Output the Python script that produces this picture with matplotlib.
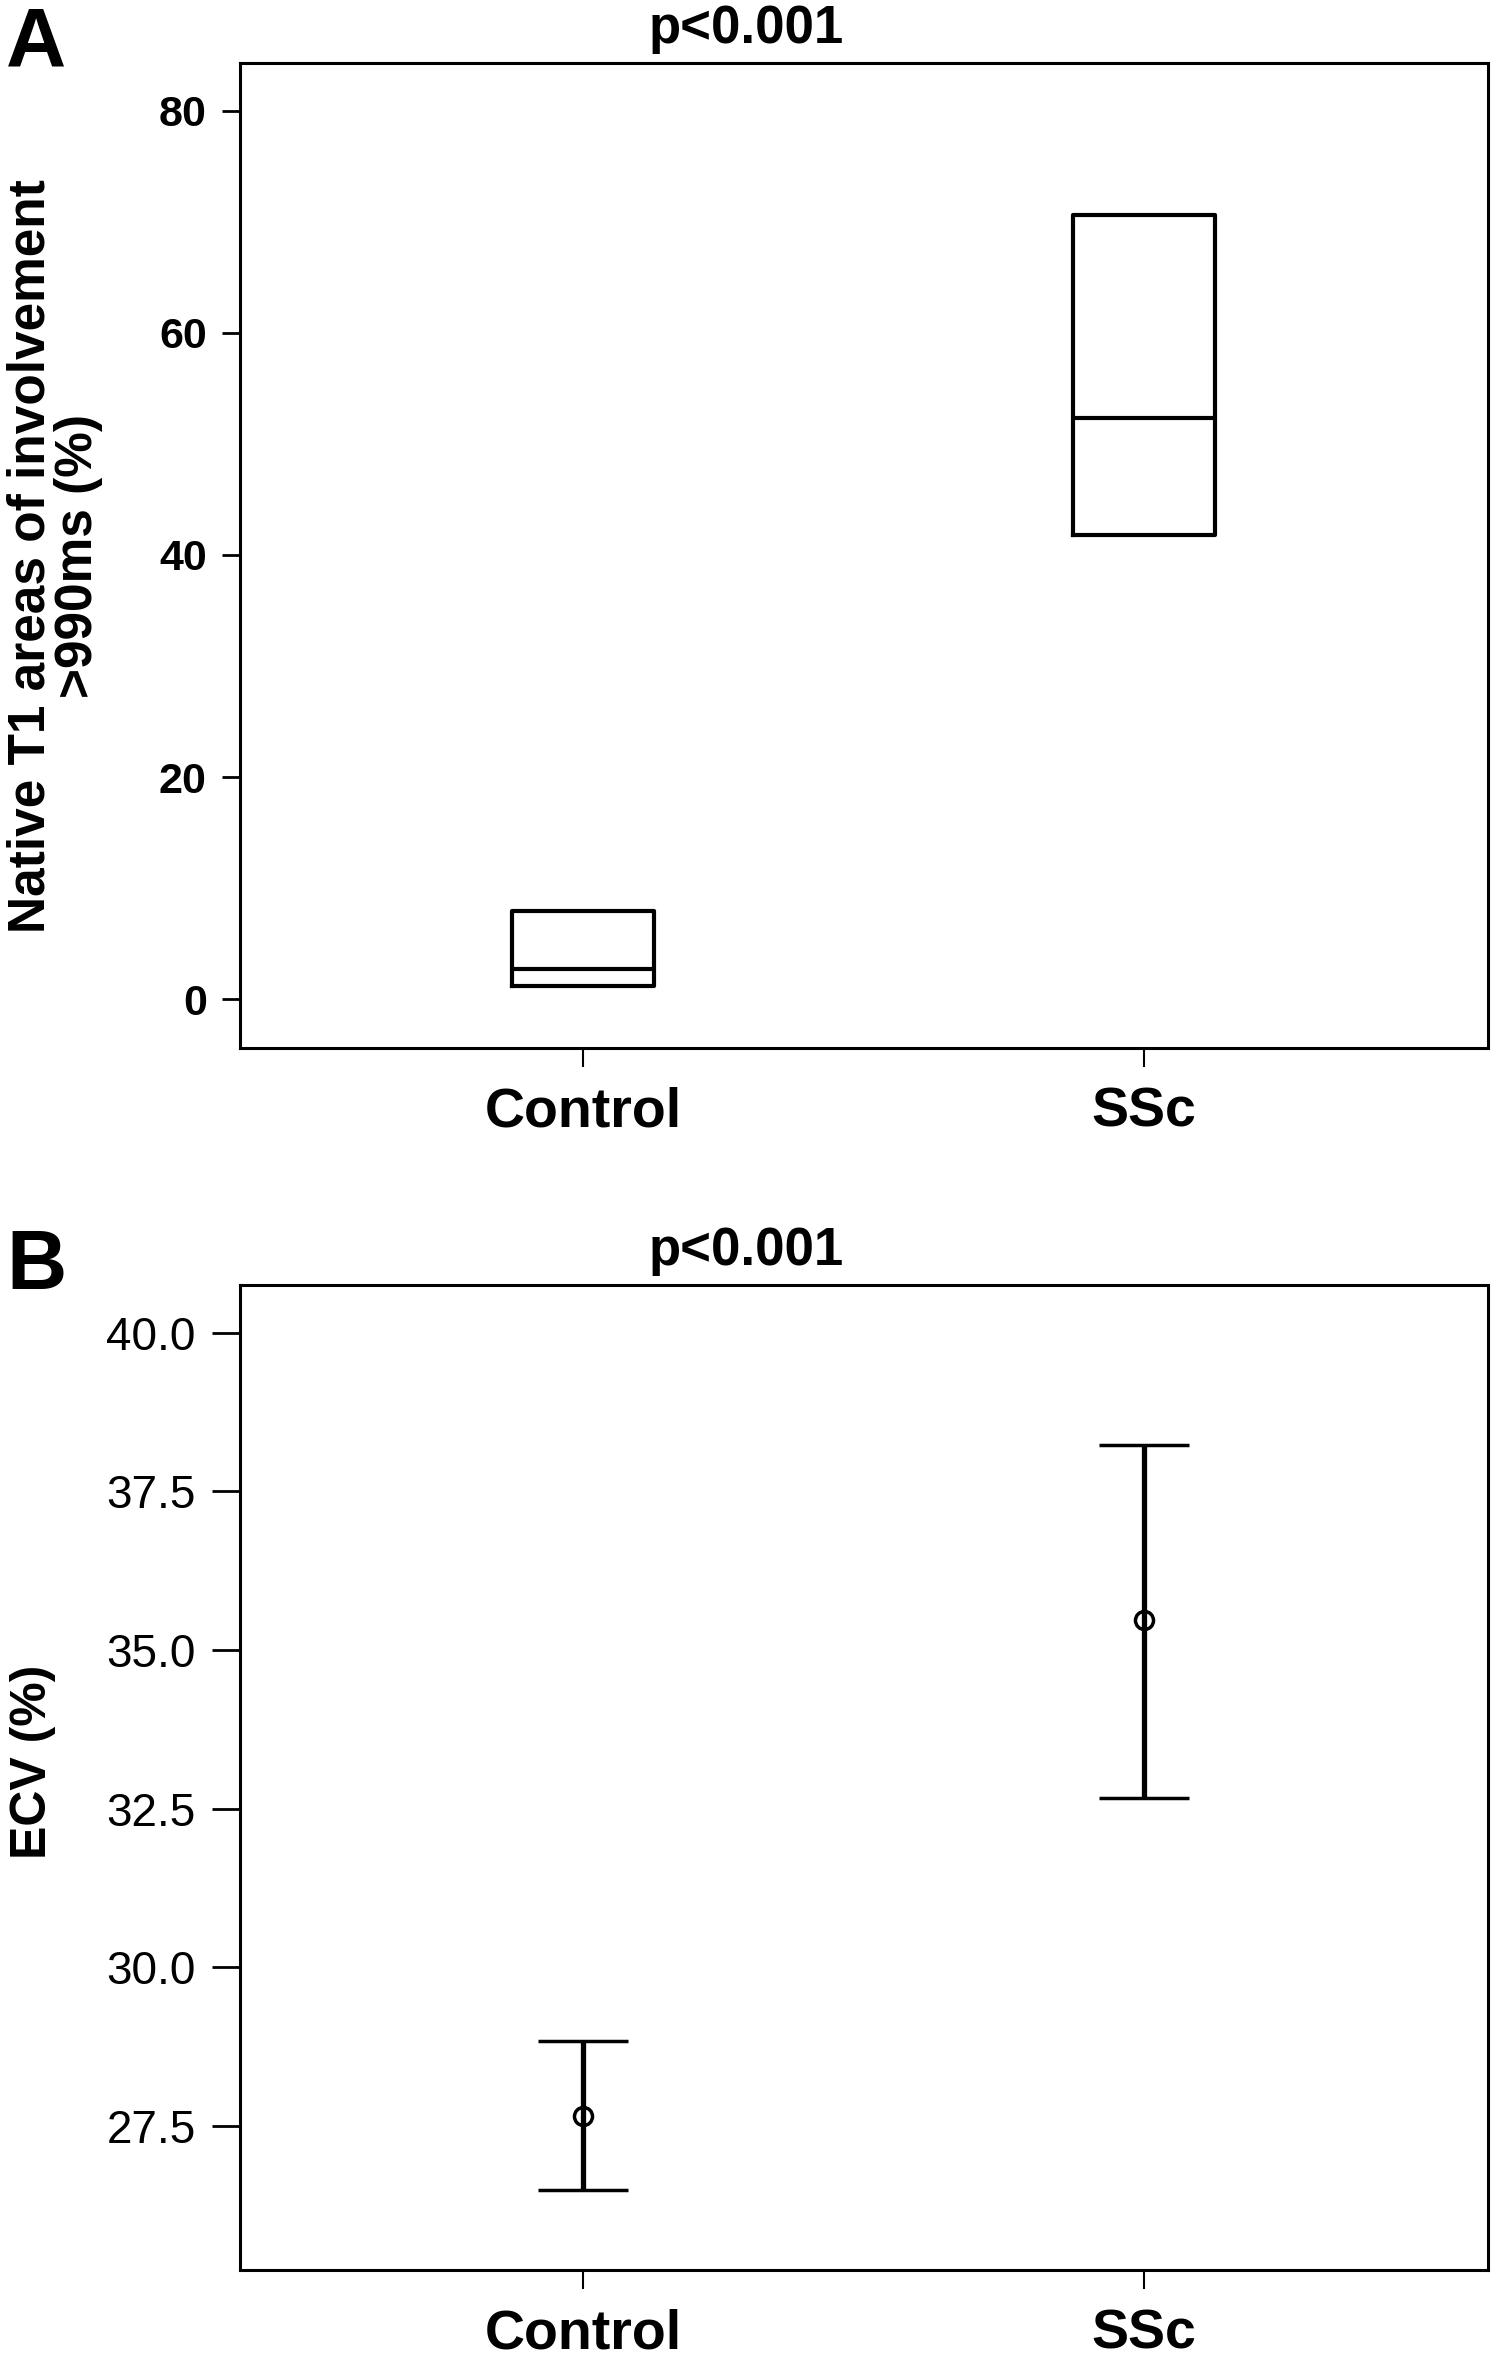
import numpy as np
import matplotlib.pyplot as plt

plt.rcParams['font.family'] = ['Liberation Sans', 'DejaVu Sans']

# Data
groups = ['Control', 'SSc']
# Panel A: native T1 areas of involvement (%), box = IQR with median
t1_q1 = [1.2, 41.8]
t1_median = [2.7, 52.3]
t1_q3 = [7.9, 70.6]
t1_ticks = [0, 20, 40, 60, 80]
# Panel B: ECV (%), mean with 95% CI
ecv_mean = [27.66, 35.47]
ecv_low = [26.49, 32.67]
ecv_high = [28.84, 38.23]
ecv_ticks = [27.5, 30.0, 32.5, 35.0, 37.5, 40.0]

W, H = 1493, 2353
fig = plt.figure(figsize=(W / 100, H / 100), dpi=100)

left, right = 240, 1488
axA = fig.add_axes([left / W, 1 - 1048 / H, (right - left) / W, (1048 - 63) / H])
axB = fig.add_axes([left / W, 1 - 2270 / H, (right - left) / W, (2270 - 1285) / H])

pos = np.arange(1, len(groups) + 1)

# Panel A - boxes without whiskers
stats = []
for g, lo, med, hi in zip(groups, t1_q1, t1_median, t1_q3):
    stats.append(dict(label=g, q1=lo, med=med, q3=hi, whislo=lo, whishi=hi, fliers=[]))
axA.bxp(stats, positions=pos, widths=0.253, showcaps=False, showfliers=False,
        boxprops=dict(color='black', linewidth=3),
        medianprops=dict(color='black', linewidth=3),
        whiskerprops=dict(linewidth=0))
axA.set_xlim(0.389, 2.613)
axA.set_ylim(-4.4, 84.3)
axA.set_yticks(t1_ticks)
axA.set_yticklabels([str(t) for t in t1_ticks], fontsize=31, fontweight='bold')
axA.tick_params(axis='y', length=13, width=2, pad=11)

# Panel B - mean and CI
yerr = [np.array(ecv_mean) - np.array(ecv_low), np.array(ecv_high) - np.array(ecv_mean)]
axB.errorbar(pos, ecv_mean, yerr=yerr, fmt='o', color='black', mfc='none',
             mec='black', ms=13, mew=2.5, elinewidth=3.8, capsize=32.5, capthick=3.8)
axB.set_xlim(0.389, 2.613)
axB.set_ylim(25.23, 40.75)
axB.set_yticks(ecv_ticks)
axB.set_yticklabels([f'{t:.1f}' for t in ecv_ticks], fontsize=33)
axB.tick_params(axis='y', length=20, width=2, pad=12)

for ax in (axA, axB):
    ax.set_xticks(pos)
    ax.set_xticklabels(groups, fontsize=40, fontweight='bold')
    ax.tick_params(axis='x', length=14, width=1.5, pad=14)
    for s in ax.spines.values():
        s.set_linewidth(2.2)

# Titles, axis labels and panel letters
fig.text(0.5, 1 - 43 / H, 'p<0.001', ha='center', va='baseline', fontsize=38, fontweight='bold')
fig.text(0.5, 1 - 1265 / H, 'p<0.001', ha='center', va='baseline', fontsize=38, fontweight='bold')
fig.text(55 / W, 1 - 556 / H, 'Native T1 areas of involvement\n>990ms (%)', rotation=90,
         ha='center', va='center', multialignment='center', fontsize=37,
         fontweight='bold', linespacing=0.95)
fig.text(33 / W, 1 - 1762 / H, 'ECV (%)', rotation=90, ha='center', va='center',
         fontsize=36, fontweight='bold')
fig.text(6 / W, 1 - 6 / H, 'A', ha='left', va='top', fontsize=60, fontweight='bold')
fig.text(6 / W, 1 - 1228 / H, 'B', ha='left', va='top', fontsize=60, fontweight='bold')

fig.savefig('out.png', dpi=100)
